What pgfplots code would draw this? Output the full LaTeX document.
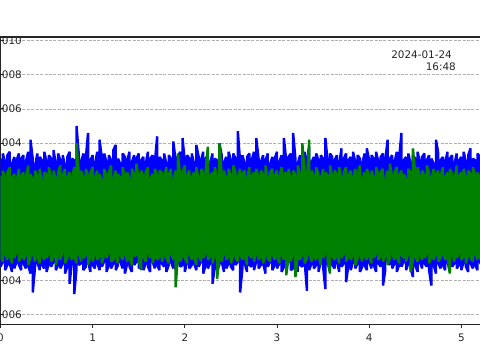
\documentclass[border=0pt]{standalone}
\usepackage{fontspec}
\setmainfont{DejaVu Sans}
\usepackage{pgfplots}
\pgfplotsset{compat=1.18}
\usepackage{pgfplotstable}
\definecolor{mplgreen}{RGB}{0,128,0}
\definecolor{gridgray}{RGB}{176,176,176}
% signal values in units of 1e-4
\pgfplotstableread[row sep=\\]{
t b g\\
0 31 21\\ 0 -32 -26\\
0.025 -29 -29\\ 0.025 34 24\\
0.05 29 19\\ 0.05 -34 -24\\
0.075 -31 -28\\ 0.075 33 23\\
0.1 35 26\\ 0.1 -30 -25\\
0.125 -35 -30\\ 0.125 28 20\\
0.15 32 22\\ 0.15 -33 -27\\
0.175 -29 -23\\ 0.175 30 18\\
0.2 34 25\\ 0.2 -31 -29\\
0.225 -34 -26\\ 0.225 31 21\\
0.25 33 23\\ 0.25 -30 -28\\
0.275 -33 -25\\ 0.275 29 20\\
0.3 35 27\\ 0.3 -31 -31\\
0.325 -36 -27\\ 0.325 42 22\\
0.35 31 19\\ 0.35 -47 -24\\
0.375 -32 -29\\ 0.375 27 24\\
0.4 34 21\\ 0.4 -29 -26\\
0.425 -34 -30\\ 0.425 32 25\\
0.45 30 18\\ 0.45 -31 -25\\
0.475 -33 -28\\ 0.475 35 23\\
0.5 29 22\\ 0.5 -35 -27\\
0.525 -30 -24\\ 0.525 33 26\\
0.55 31 20\\ 0.55 -32 -29\\
0.575 -29 -26\\ 0.575 36 24\\
0.6 28 19\\ 0.6 -34 -31\\
0.625 -31 -25\\ 0.625 34 23\\
0.65 30 27\\ 0.65 -33 -28\\
0.675 -30 -23\\ 0.675 33 21\\
0.7 27 25\\ 0.7 -36 -30\\
0.725 -32 -27\\ 0.725 32 20\\
0.75 35 23\\ 0.75 -42 -25\\
0.775 -29 -28\\ 0.775 31 19\\
0.8 30 26\\ 0.8 -48 -26\\
0.825 -33 -30\\ 0.825 50 40\\
0.85 33 22\\ 0.85 -31 -24\\
0.875 -30 -29\\ 0.875 29 24\\
0.9 34 20\\ 0.9 -34 -27\\
0.925 -32 -25\\ 0.925 31 25\\
0.95 46 21\\ 0.95 -29 -31\\
0.975 -35 -26\\ 0.975 30 23\\
1 33 26\\ 1 -31 -29\\
1.025 -33 -24\\ 1.025 28 20\\
1.05 35 24\\ 1.05 -30 -28\\
1.075 -34 -26\\ 1.075 42 22\\
1.1 31 18\\ 1.1 -32 -30\\
1.125 -29 -25\\ 1.125 34 25\\
1.15 29 21\\ 1.15 -35 -27\\
1.175 -31 -23\\ 1.175 33 23\\
1.2 30 27\\ 1.2 -33 -29\\
1.225 -30 -28\\ 1.225 36 19\\
1.25 39 24\\ 1.25 -34 -26\\
1.275 -31 -30\\ 1.275 31 22\\
1.3 28 20\\ 1.3 -29 -25\\
1.325 -33 -28\\ 1.325 34 26\\
1.35 32 21\\ 1.35 -36 -24\\
1.375 -30 -29\\ 1.375 30 23\\
1.4 35 19\\ 1.4 -32 -27\\
1.425 -35 -31\\ 1.425 29 25\\
1.45 33 22\\ 1.45 -31 -26\\
1.475 -29 -25\\ 1.475 31 28\\
1.5 34 20\\ 1.5 -33 -28\\
1.525 -31 -34\\ 1.525 30 24\\
1.55 32 21\\ 1.55 -34 -26\\
1.575 -30 -29\\ 1.575 28 23\\
1.6 35 26\\ 1.6 -32 -24\\
1.625 -35 -27\\ 1.625 31 19\\
1.65 33 22\\ 1.65 -29 -30\\
1.675 -33 -25\\ 1.675 29 25\\
1.7 44 21\\ 1.7 -31 -28\\
1.725 -34 -26\\ 1.725 32 24\\
1.75 30 23\\ 1.75 -30 -29\\
1.775 -32 -25\\ 1.775 34 20\\
1.8 28 26\\ 1.8 -35 -27\\
1.825 -31 -30\\ 1.825 33 22\\
1.85 31 25\\ 1.85 -29 -24\\
1.875 -33 -28\\ 1.875 41 19\\
1.9 30 24\\ 1.9 -34 -44\\
1.925 -30 -26\\ 1.925 32 34\\
1.95 35 21\\ 1.95 -32 -29\\
1.975 -31 -25\\ 1.975 43 23\\
2 29 27\\ 2 -35 -27\\
2.025 -29 -30\\ 2.025 33 21\\
2.05 31 24\\ 2.05 -33 -24\\
2.075 -31 -28\\ 2.075 34 20\\
2.1 28 23\\ 2.1 -30 -26\\
2.125 -34 -31\\ 2.125 39 26\\
2.15 32 19\\ 2.15 -32 -25\\
2.175 -29 -29\\ 2.175 30 25\\
2.2 35 22\\ 2.2 -36 -27\\
2.225 -31 -24\\ 2.225 31 24\\
2.25 33 38\\ 2.25 -33 -28\\
2.275 -30 -26\\ 2.275 28 21\\
2.3 34 23\\ 2.3 -42 -30\\
2.325 -32 -25\\ 2.325 31 26\\
2.35 30 20\\ 2.35 -34 -39\\
2.375 -31 -27\\ 2.375 40 40\\
2.4 33 22\\ 2.4 -29 -29\\
2.425 -35 -24\\ 2.425 29 24\\
2.45 32 19\\ 2.45 -33 -28\\
2.475 -30 -26\\ 2.475 35 25\\
2.5 30 21\\ 2.5 -32 -30\\
2.525 -34 -25\\ 2.525 34 27\\
2.55 31 23\\ 2.55 -31 -27\\
2.575 -29 -29\\ 2.575 47 20\\
2.6 29 25\\ 2.6 -47 -24\\
2.625 -33 -28\\ 2.625 33 22\\
2.65 28 24\\ 2.65 -30 -26\\
2.675 -35 -31\\ 2.675 32 19\\
2.7 34 26\\ 2.7 -31 -25\\
2.725 -32 -27\\ 2.725 30 21\\
2.75 35 23\\ 2.75 -34 -29\\
2.775 -29 -24\\ 2.775 43 25\\
2.8 31 20\\ 2.8 -33 -28\\
2.825 -31 -26\\ 2.825 29 24\\
2.85 33 22\\ 2.85 -30 -30\\
2.875 -36 -25\\ 2.875 30 27\\
2.9 34 19\\ 2.9 -32 -27\\
2.925 -29 -29\\ 2.925 28 23\\
2.95 32 25\\ 2.95 -34 -24\\
2.975 -31 -28\\ 2.975 31 21\\
3 35 24\\ 3 -33 -26\\
3.025 -30 -30\\ 3.025 29 20\\
3.05 33 26\\ 3.05 -35 -25\\
3.075 -32 -28\\ 3.075 43 22\\
3.1 30 23\\ 3.1 -31 -37\\
3.125 -29 -27\\ 3.125 32 25\\
3.15 34 19\\ 3.15 -34 -29\\
3.175 -33 -24\\ 3.175 46 24\\
3.2 31 21\\ 3.2 -30 -38\\
3.225 -35 -26\\ 3.225 28 27\\
3.25 33 22\\ 3.25 -31 -28\\
3.275 -32 -25\\ 3.275 30 40\\
3.3 35 23\\ 3.3 -29 -30\\
3.325 -46 -27\\ 3.325 31 20\\
3.35 38 42\\ 3.35 -34 -24\\
3.375 -30 -29\\ 3.375 29 24\\
3.4 32 21\\ 3.4 -33 -26\\
3.425 -31 -28\\ 3.425 34 26\\
3.45 30 22\\ 3.45 -35 -25\\
3.475 -29 -31\\ 3.475 33 19\\
3.5 31 25\\ 3.5 -32 -27\\
3.525 -45 -24\\ 3.525 43 23\\
3.55 29 21\\ 3.55 -30 -29\\
3.575 -34 -36\\ 3.575 34 27\\
3.6 32 20\\ 3.6 -31 -26\\
3.625 -33 -28\\ 3.625 30 24\\
3.65 33 22\\ 3.65 -29 -25\\
3.675 -35 -30\\ 3.675 28 26\\
3.7 37 19\\ 3.7 -32 -27\\
3.725 -30 -24\\ 3.725 31 23\\
3.75 34 26\\ 3.75 -41 -29\\
3.775 -31 -26\\ 3.775 30 21\\
3.8 32 24\\ 3.8 -34 -28\\
3.825 -29 -25\\ 3.825 35 20\\
3.85 29 25\\ 3.85 -33 -31\\
3.875 -30 -27\\ 3.875 33 22\\
3.9 31 27\\ 3.9 -35 -24\\
3.925 -32 -29\\ 3.925 28 19\\
3.95 34 23\\ 3.95 -31 -26\\
3.975 -34 -28\\ 3.975 37 25\\
4 30 21\\ 4 -29 -25\\
4.025 -33 -30\\ 4.025 33 24\\
4.05 31 20\\ 4.05 -31 -27\\
4.075 -35 -24\\ 4.075 35 26\\
4.1 29 22\\ 4.1 -30 -28\\
4.125 -32 -26\\ 4.125 32 23\\
4.15 34 25\\ 4.15 -43 -29\\
4.175 -34 -25\\ 4.175 30 19\\
4.2 42 24\\ 4.2 -29 -31\\
4.225 -31 -27\\ 4.225 31 28\\
4.25 33 20\\ 4.25 -33 -24\\
4.275 -30 -28\\ 4.275 29 23\\
4.3 35 26\\ 4.3 -35 -26\\
4.325 -31 -30\\ 4.325 31 21\\
4.35 46 24\\ 4.35 -32 -25\\
4.375 -29 -27\\ 4.375 30 22\\
4.4 32 19\\ 4.4 -34 -29\\
4.425 -30 -24\\ 4.425 34 25\\
4.45 28 23\\ 4.45 -33 -35\\
4.475 -38 -28\\ 4.475 33 37\\
4.5 31 22\\ 4.5 -31 -26\\
4.525 -35 -29\\ 4.525 35 26\\
4.55 29 20\\ 4.55 -29 -25\\
4.575 -33 -28\\ 4.575 32 24\\
4.6 34 21\\ 4.6 -30 -27\\
4.625 -32 -24\\ 4.625 30 27\\
4.65 33 23\\ 4.65 -34 -30\\
4.675 -43 -26\\ 4.675 31 19\\
4.7 28 25\\ 4.7 -31 -28\\
4.725 -36 -25\\ 4.725 42 22\\
4.75 34 24\\ 4.75 -30 -29\\
4.775 -33 -27\\ 4.775 30 21\\
4.8 32 26\\ 4.8 -31 -24\\
4.825 -34 -28\\ 4.825 29 20\\
4.85 35 23\\ 4.85 -29 -26\\
4.875 -35 -36\\ 4.875 31 25\\
4.9 33 22\\ 4.9 -32 -25\\
4.925 -30 -29\\ 4.925 28 19\\
4.95 34 27\\ 4.95 -33 -27\\
4.975 -31 -24\\ 4.975 30 21\\
5 32 23\\ 5 -34 -28\\
5.025 -29 -26\\ 5.025 35 25\\
5.05 29 20\\ 5.05 -32 -30\\
5.075 -35 -25\\ 5.075 33 24\\
5.1 37 22\\ 5.1 -30 -27\\
5.125 -33 -29\\ 5.125 31 26\\
5.15 30 21\\ 5.15 -31 -24\\
5.175 -34 -28\\ 5.175 34 23\\
5.2 32 19\\ 5.2 -29 -26\\
5.225 -32 -30\\ 5.225 29 25\\
5.25 33 22\\ 5.25 -33 -25\\
}\sig

\begin{document}
\begin{tikzpicture}[x=1pt,y=1pt]
\begin{axis}[
  name=ax, at={(0,0)}, anchor=south west,
  scale only axis, width=497.7pt, height=287.7pt,
  xmin=0, xmax=5.4, ymin=-65.8, ymax=101.9,
  xtick={0,1,2,3,4,5}, xticklabels={0,1,2,3,4,5},
  ytick={-60,-40,40,60,80,100},
  yticklabels={−0.006,−0.004,0.004,0.006,0.008,0.010},
  tick pos=left,
  xtick align=outside, ytick align=inside,
  major tick length=3.5pt,
  ymajorgrids,
  grid style={gridgray, line width=0.6pt, dash pattern=on 3pt off 1.4pt},
  axis line style={black!85, line width=1.1pt},
  tick style={black!85, line width=0.9pt},
  tick label style={font=\fontsize{10.4}{12}\selectfont, text=black!85},
  yticklabel style={anchor=east, inner sep=0pt, xshift=21.5pt},
  xticklabel style={anchor=north, inner sep=0pt, yshift=-5.3pt},
]
\addplot[blue, line width=2.4pt, line join=miter, miter limit=1.5, no markers] table[x=t, y=b]{\sig};
\addplot[mplgreen, line width=2.4pt, line join=miter, miter limit=1.5, no markers] table[x=t, y=g]{\sig};
\end{axis}
\node[anchor=base east, inner sep=0pt, font=\fontsize{10.4}{12}\selectfont, text=black!85] at (451.5,266.7) {2024-01-24};
\node[anchor=base east, inner sep=0pt, font=\fontsize{10.4}{12}\selectfont, text=black!85] at (455.5,254.7) {16:48};
\pgfresetboundingbox
\path[use as bounding box] (-0.5,-35.3) rectangle (479.5,324.7);
\end{tikzpicture}
\end{document}
